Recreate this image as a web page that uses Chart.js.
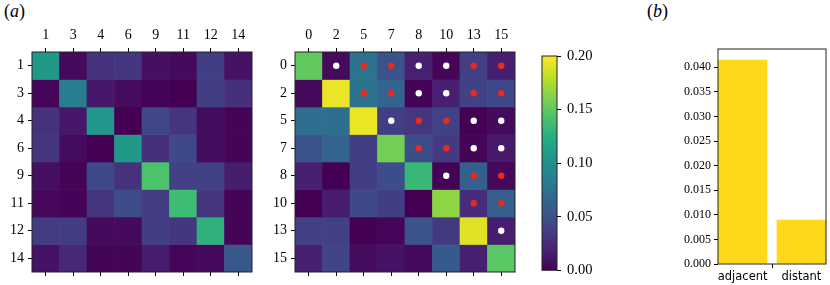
<!DOCTYPE html>
<html>
<head>
<meta charset="utf-8">
<script src="https://cdn.jsdelivr.net/npm/chart.js@4.4.1/dist/chart.umd.min.js"></script>
<style>
  body { margin: 0; background: #fff; }
  #wrap { position: relative; width: 830px; height: 285px; overflow: hidden; }
  canvas { position: absolute; top: 0; }
  .tag { position: absolute; font-family: 'Liberation Serif', 'Times New Roman', 'DejaVu Serif', serif; font-size: 18px; line-height: 20px; color: #000; }
</style>
</head>
<body>
<div id="wrap">
  <div class="tag" style="left:4px; top:1px;">(<i>a</i>)</div>
  <div class="tag" style="left:647px; top:1px;">(<i>b</i>)</div>
  <canvas id="heatLeft" width="260" height="285" style="left:0px"></canvas>
  <canvas id="heatRight" width="260" height="285" style="left:263px"></canvas>
  <canvas id="cbar" width="120" height="285" style="left:530px"></canvas>
  <canvas id="bars" width="180" height="285" style="left:650px"></canvas>
</div>
<script>
// ---- data ----
const leftLabels = ['1', '3', '4', '6', '9', '11', '12', '14'];
const leftValues = [
  [0.107, 0.005, 0.028, 0.032, 0.008, 0.005, 0.036, 0.010],
  [0.003, 0.084, 0.013, 0.006, 0.001, 0.000, 0.036, 0.027],
  [0.028, 0.012, 0.104, 0.000, 0.042, 0.030, 0.006, 0.002],
  [0.030, 0.006, 0.000, 0.107, 0.027, 0.043, 0.006, 0.002],
  [0.008, 0.002, 0.043, 0.028, 0.143, 0.038, 0.038, 0.016],
  [0.004, 0.001, 0.030, 0.045, 0.035, 0.137, 0.030, 0.002],
  [0.035, 0.035, 0.005, 0.005, 0.036, 0.032, 0.128, 0.002],
  [0.010, 0.022, 0.002, 0.002, 0.015, 0.003, 0.005, 0.055]
];

const rightLabels = ['0', '2', '5', '7', '8', '10', '13', '15'];
const rightValues = [
  [0.151, 0.005, 0.075, 0.050, 0.018, 0.003, 0.037, 0.017],
  [0.005, 0.194, 0.075, 0.064, 0.001, 0.018, 0.039, 0.042],
  [0.072, 0.072, 0.194, 0.036, 0.032, 0.039, 0.000, 0.005],
  [0.050, 0.064, 0.036, 0.157, 0.047, 0.034, 0.002, 0.014],
  [0.018, 0.000, 0.036, 0.047, 0.133, 0.001, 0.060, 0.004],
  [0.000, 0.015, 0.043, 0.036, 0.000, 0.166, 0.025, 0.060],
  [0.038, 0.038, 0.000, 0.003, 0.052, 0.033, 0.191, 0.016],
  [0.018, 0.040, 0.006, 0.010, 0.005, 0.056, 0.017, 0.148]
];

// [row, column] pairs on the right map
const redDots = [['0', '5'], ['0', '7'], ['0', '13'], ['0', '15'], ['2', '5'], ['2', '7'], ['2', '13'], ['2', '15'],
  ['5', '8'], ['5', '10'], ['7', '8'], ['7', '10'], ['8', '13'], ['8', '15'], ['10', '13'], ['10', '15']];
const whiteDots = [['0', '2'], ['0', '8'], ['0', '10'], ['2', '8'], ['2', '10'], ['5', '7'], ['5', '13'], ['5', '15'],
  ['7', '13'], ['7', '15'], ['8', '10'], ['13', '15']];

const colorMax = 0.20;
const colorTicks = [0, 0.05, 0.10, 0.15, 0.20];

const barCats = ['adjacent', 'distant'];
const barValues = [0.0415, 0.0090];
const barMax = 0.0437;

// ---- colours ----
const viridisStops = ['#440154', '#482475', '#414487', '#355f8d', '#2a788e', '#21918c',
  '#22a884', '#44bf70', '#7ad151', '#bddf26', '#fde725'];

function hexRgb(h) {
  return [parseInt(h.slice(1, 3), 16), parseInt(h.slice(3, 5), 16), parseInt(h.slice(5, 7), 16)];
}

function viridis(t) {
  t = Math.min(1, Math.max(0, t));
  const pos = t * (viridisStops.length - 1);
  const i = Math.min(Math.floor(pos), viridisStops.length - 2);
  const f = pos - i;
  const a = hexRgb(viridisStops[i]), b = hexRgb(viridisStops[i + 1]);
  const c = a.map((v, k) => Math.round(v + (b[k] - v) * f));
  return `rgb(${c[0]}, ${c[1]}, ${c[2]})`;
}

const serif = "'Liberation Serif', 'Times New Roman', 'DejaVu Serif', serif";
const tickGrid = { drawOnChartArea: false, tickLength: 4, color: '#000', tickWidth: 1 };

const frame = {
  id: 'frame',
  afterDraw(chart) {
    const { ctx, chartArea: a } = chart;
    ctx.save();
    ctx.strokeStyle = '#222';
    ctx.lineWidth = 1;
    ctx.strokeRect(a.left, a.top, a.right - a.left, a.bottom - a.top);
    ctx.restore();
  }
};

function makeHeatmap(id, labels, values, red, white) {
  const ctx = document.getElementById(id).getContext('2d');

  const rows = values.map((row, r) => ({
    type: 'bar',
    data: row.map(() => [r, r + 1]),
    backgroundColor: row.map(v => viridis(v / colorMax)),
    borderWidth: 0,
    barPercentage: 1,
    categoryPercentage: 1,
    grouped: false,
    order: 2
  }));

  const dots = (pairs, color) => ({
    type: 'scatter',
    data: pairs.map(([r, c]) => ({ x: c, y: labels.indexOf(r) + 0.5 })),
    backgroundColor: color,
    borderWidth: 0,
    pointRadius: 3.2,
    order: 1
  });

  const datasets = rows.slice();
  if (red) datasets.push(dots(red, '#ec2a1c'));
  if (white) datasets.push(dots(white, '#ffffff'));

  return new Chart(ctx, {
    type: 'bar',
    data: { labels: labels, datasets: datasets },
    options: {
      responsive: false,
      animation: false,
      devicePixelRatio: 1,
      layout: { padding: { top: 0, left: 0, right: 8, bottom: 0 } },
      plugins: { legend: { display: false }, tooltip: { enabled: false } },
      scales: {
        x: {
          type: 'category',
          position: 'top',
          labels: labels,
          offset: true,
          grid: Object.assign({ offset: false }, tickGrid),
          border: { display: false },
          ticks: { font: { family: serif, size: 14 }, color: '#000', padding: 4, autoSkip: false, maxRotation: 0 },
          afterFit: s => { s.height = 52; }
        },
        x2: {
          type: 'category',
          position: 'bottom',
          labels: labels,
          offset: true,
          grid: Object.assign({ offset: false }, tickGrid),
          border: { display: false },
          ticks: { display: false },
          afterFit: s => { s.height = 13; }
        },
        y: {
          type: 'linear',
          reverse: true,
          min: 0,
          max: labels.length,
          afterBuildTicks: s => { s.ticks = labels.map((_, i) => ({ value: i + 0.5 })); },
          grid: tickGrid,
          border: { display: false },
          ticks: {
            callback: v => labels[Math.floor(v)],
            font: { family: serif, size: 14 }, color: '#000', padding: 4, autoSkip: false
          },
          afterFit: s => { s.width = 32; }
        }
      }
    },
    plugins: [frame]
  });
}

makeHeatmap('heatLeft', leftLabels, leftValues, null, null);
makeHeatmap('heatRight', rightLabels, rightValues, redDots, whiteDots);

// colour bar
new Chart(document.getElementById('cbar').getContext('2d'), {
  type: 'bar',
  data: {
    labels: [''],
    datasets: [{
      data: [[0, colorMax]],
      borderWidth: 0,
      barPercentage: 1,
      categoryPercentage: 1,
      backgroundColor: c => {
        const a = c.chart.chartArea;
        if (!a) return viridisStops[0];
        const g = c.chart.ctx.createLinearGradient(0, a.bottom, 0, a.top);
        viridisStops.forEach((col, i) => g.addColorStop(i / (viridisStops.length - 1), col));
        return g;
      }
    }]
  },
  options: {
    responsive: false,
    animation: false,
    devicePixelRatio: 1,
    layout: { padding: { top: 56, left: 12, right: 43, bottom: 14 } },
    plugins: { legend: { display: false }, tooltip: { enabled: false } },
    scales: {
      x: { display: false },
      y: {
        position: 'right',
        min: 0,
        max: colorMax,
        afterBuildTicks: s => { s.ticks = colorTicks.map(v => ({ value: v })); },
        grid: tickGrid,
        border: { display: false },
        ticks: { callback: v => v.toFixed(2), font: { family: serif, size: 14.5 }, color: '#000', padding: 6 },
        afterFit: s => { s.width = 50; }
      }
    }
  },
  plugins: [frame]
});

// bar panel (b)
new Chart(document.getElementById('bars').getContext('2d'), {
  type: 'bar',
  data: {
    datasets: [{
      data: barValues.map((v, i) => ({ x: i, y: v })),
      backgroundColor: '#fdd81b',
      borderWidth: 0,
      barPercentage: 0.84,
      categoryPercentage: 1
    }]
  },
  options: {
    responsive: false,
    animation: false,
    devicePixelRatio: 1,
    layout: { padding: { top: 49, left: 0, right: 4, bottom: 0 } },
    plugins: { legend: { display: false }, tooltip: { enabled: false } },
    scales: {
      x: {
        type: 'linear',
        min: -0.42,
        max: 1.42,
        offset: false,
        afterBuildTicks: s => { s.ticks = barCats.map((_, i) => ({ value: i })); },
        grid: tickGrid,
        border: { display: false },
        ticks: { callback: v => barCats[v], font: { family: 'DejaVu Sans', size: 11.5 }, color: '#000', padding: 2 },
        afterFit: s => { s.height = 21; }
      },
      y: {
        min: 0,
        max: barMax,
        grid: tickGrid,
        border: { display: false },
        ticks: { stepSize: 0.005, includeBounds: false, callback: v => v.toFixed(3), font: { family: serif, size: 12 }, color: '#000', padding: 3 },
        afterFit: s => { s.width = 68; }
      }
    }
  },
  plugins: [frame]
});
</script>
</body>
</html>
